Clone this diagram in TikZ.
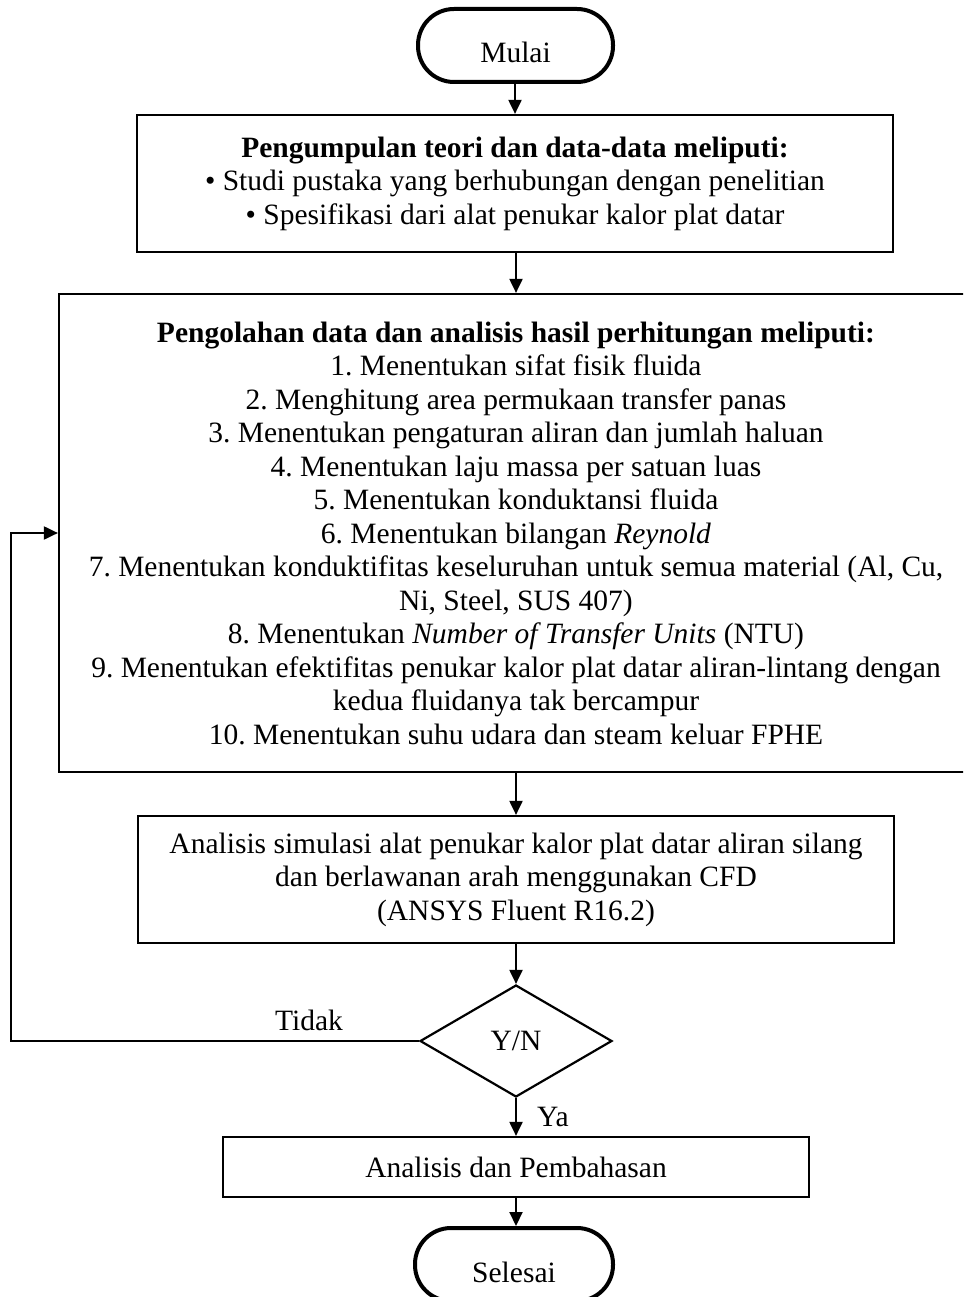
\documentclass[tikz,border=0pt]{standalone}
\usepackage{fontspec}
\setmainfont{Liberation Serif}
\usetikzlibrary{shapes.geometric,arrows.meta}
\frenchspacing
\tikzset{
  base/.style={font=\fontsize{29.5}{33.5}\selectfont, align=center, inner sep=0pt},
  box/.style={base, draw, line width=2.2pt, rectangle},
  term/.style={draw, line width=4pt, rectangle, rounded corners=36pt, inner sep=0pt},
  dia/.style={base, draw, line width=2.2pt, diamond, shape aspect=1.7},
  arr/.style={line width=2pt, -{Triangle[width=13pt,length=14pt]}},
  lbl/.style={font=\fontsize{29.5}{33.5}\selectfont, inner sep=0pt}
}
\begin{document}
\begin{tikzpicture}[x=1pt,y=-1pt]
\clip (0,0) rectangle (963,1297);
\fill[white] (0,0) rectangle (963,1297);

\node[term, minimum width=195pt, minimum height=73pt] (start) at (515.5,45.5) {};
\node[lbl, anchor=base] (starttxt) at (515.5,63) {Mulai};

\node[box, minimum width=756pt, minimum height=137pt] (b1) at (515,183.5)
 {\textbf{Pengumpulan teori dan data-data meliputi:}\\
  \textbullet\ Studi pustaka yang berhubungan dengan penelitian\\
  \textbullet\ Spesifikasi dari alat penukar kalor plat datar};

\node[box, minimum width=914pt, minimum height=478pt] (b2) at (516,533)
 {\textbf{Pengolahan data dan analisis hasil perhitungan meliputi:}\\
  1. Menentukan sifat fisik fluida\\
  2. Menghitung area permukaan transfer panas\\
  3. Menentukan pengaturan aliran dan jumlah haluan\\
  4. Menentukan laju massa per satuan luas\\
  5. Menentukan konduktansi fluida\\
  6. Menentukan bilangan \textit{Reynold}\\
  7. Menentukan konduktifitas keseluruhan untuk semua material (Al, Cu,\\
  Ni, Steel, SUS 407)\\
  8. Menentukan \textit{Number of Transfer Units} (NTU)\\
  9. Menentukan efektifitas penukar kalor plat datar aliran-lintang dengan\\
  kedua fluidanya tak bercampur\\
  10. Menentukan suhu udara dan steam keluar FPHE};

\node[box, minimum width=756pt, minimum height=127pt] (b3) at (516,879.5)
 {Analisis simulasi alat penukar kalor plat datar aliran silang\\
  dan berlawanan arah menggunakan CFD\\
  (ANSYS Fluent R16.2)};

\node[dia, minimum width=192pt, minimum height=112pt] (dec) at (516,1041) {Y/N};

\node[box, minimum width=586pt, minimum height=60pt] (b4) at (516,1167) {Analisis dan Pembahasan};

\node[term, minimum width=198pt, minimum height=73pt] (stop) at (514,1264.5) {};
\node[lbl, anchor=base] (stoptxt) at (514,1282) {Selesai};

\draw[arr] (start.south -| b1.north) -- (b1.north);
\draw[arr] (b1.south -| 516,0) -- (b2.north);
\draw[arr] (b2.south) -- (b3.north);
\draw[arr] (b3.south) -- (dec.north);
\draw[arr] (dec.south) -- (b4.north);
\draw[arr] (b4.south) -- (b4.south |- stop.north);

\coordinate (fbk) at (11,533);
\draw[arr] (dec.west) -| (fbk) -- (fbk -| b2.west);

\node[lbl, anchor=base west] (tidak) at (275,1030) {Tidak};
\node[lbl, anchor=base west] (ya) at (537,1126) {Ya};
\end{tikzpicture}
\end{document}
